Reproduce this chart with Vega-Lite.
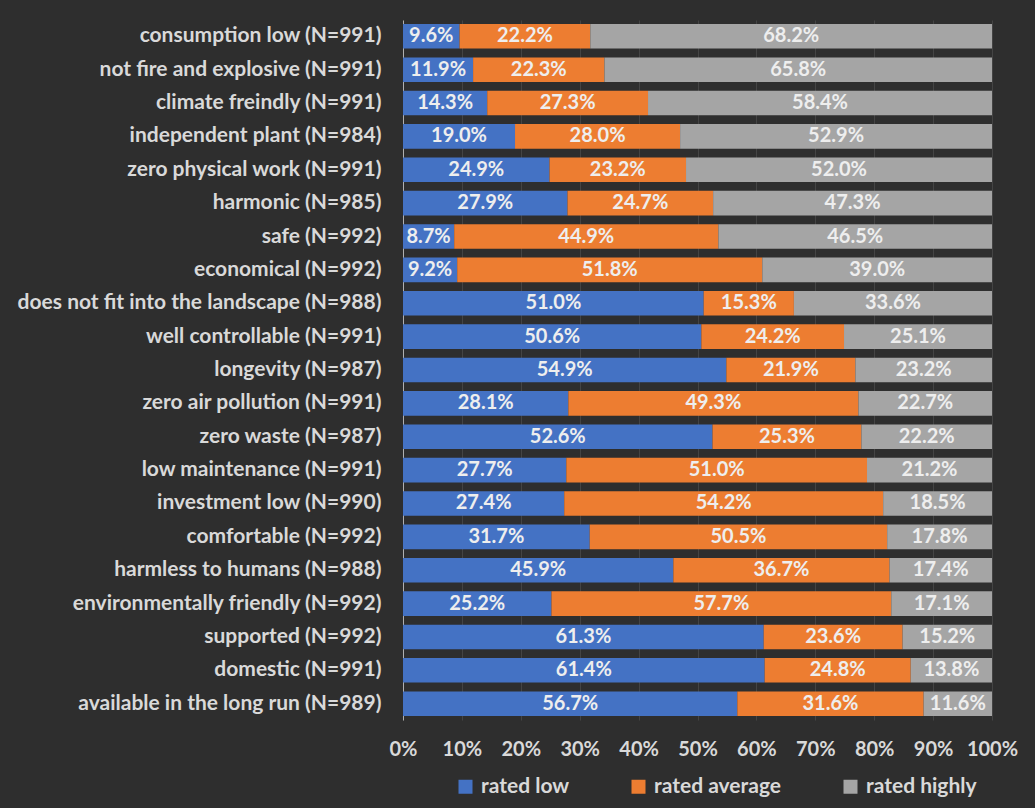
{
  "$schema": "https://vega.github.io/schema/vega-lite/v6.json",
  "width": 589,
  "height": 700,
  "autosize": {"type": "none"},
  "padding": {"left": 403, "top": 20, "right": 43, "bottom": 88},
  "background": "#2e2e2e",
  "config": {
    "view": {"stroke": null},
    "font": "Lato",
    "axis": {"labelFont": "Lato", "labelFontWeight": "bold", "labelColor": "#d9d9d9", "labelFontSize": 21},
    "legend": {"labelFont": "Lato", "labelFontWeight": "bold", "labelColor": "#d9d9d9", "labelFontSize": 21}
  },
  "data": {
    "values": [
      {"item": "consumption low (N=991)", "rating": "rated low", "value": 0.096},
      {"item": "consumption low (N=991)", "rating": "rated average", "value": 0.222},
      {"item": "consumption low (N=991)", "rating": "rated highly", "value": 0.682},
      {"item": "not fire and explosive (N=991)", "rating": "rated low", "value": 0.119},
      {"item": "not fire and explosive (N=991)", "rating": "rated average", "value": 0.223},
      {"item": "not fire and explosive (N=991)", "rating": "rated highly", "value": 0.658},
      {"item": "climate freindly (N=991)", "rating": "rated low", "value": 0.143},
      {"item": "climate freindly (N=991)", "rating": "rated average", "value": 0.273},
      {"item": "climate freindly (N=991)", "rating": "rated highly", "value": 0.584},
      {"item": "independent plant (N=984)", "rating": "rated low", "value": 0.190},
      {"item": "independent plant (N=984)", "rating": "rated average", "value": 0.280},
      {"item": "independent plant (N=984)", "rating": "rated highly", "value": 0.529},
      {"item": "zero physical work (N=991)", "rating": "rated low", "value": 0.249},
      {"item": "zero physical work (N=991)", "rating": "rated average", "value": 0.232},
      {"item": "zero physical work (N=991)", "rating": "rated highly", "value": 0.520},
      {"item": "harmonic (N=985)", "rating": "rated low", "value": 0.279},
      {"item": "harmonic (N=985)", "rating": "rated average", "value": 0.247},
      {"item": "harmonic (N=985)", "rating": "rated highly", "value": 0.473},
      {"item": "safe (N=992)", "rating": "rated low", "value": 0.087},
      {"item": "safe (N=992)", "rating": "rated average", "value": 0.449},
      {"item": "safe (N=992)", "rating": "rated highly", "value": 0.465},
      {"item": "economical (N=992)", "rating": "rated low", "value": 0.092},
      {"item": "economical (N=992)", "rating": "rated average", "value": 0.518},
      {"item": "economical (N=992)", "rating": "rated highly", "value": 0.390},
      {"item": "does not fit into the landscape (N=988)", "rating": "rated low", "value": 0.510},
      {"item": "does not fit into the landscape (N=988)", "rating": "rated average", "value": 0.153},
      {"item": "does not fit into the landscape (N=988)", "rating": "rated highly", "value": 0.336},
      {"item": "well controllable (N=991)", "rating": "rated low", "value": 0.506},
      {"item": "well controllable (N=991)", "rating": "rated average", "value": 0.242},
      {"item": "well controllable (N=991)", "rating": "rated highly", "value": 0.251},
      {"item": "longevity (N=987)", "rating": "rated low", "value": 0.549},
      {"item": "longevity (N=987)", "rating": "rated average", "value": 0.219},
      {"item": "longevity (N=987)", "rating": "rated highly", "value": 0.232},
      {"item": "zero air pollution (N=991)", "rating": "rated low", "value": 0.281},
      {"item": "zero air pollution (N=991)", "rating": "rated average", "value": 0.493},
      {"item": "zero air pollution (N=991)", "rating": "rated highly", "value": 0.227},
      {"item": "zero waste (N=987)", "rating": "rated low", "value": 0.526},
      {"item": "zero waste (N=987)", "rating": "rated average", "value": 0.253},
      {"item": "zero waste (N=987)", "rating": "rated highly", "value": 0.222},
      {"item": "low maintenance (N=991)", "rating": "rated low", "value": 0.277},
      {"item": "low maintenance (N=991)", "rating": "rated average", "value": 0.510},
      {"item": "low maintenance (N=991)", "rating": "rated highly", "value": 0.212},
      {"item": "investment low (N=990)", "rating": "rated low", "value": 0.274},
      {"item": "investment low (N=990)", "rating": "rated average", "value": 0.542},
      {"item": "investment low (N=990)", "rating": "rated highly", "value": 0.185},
      {"item": "comfortable (N=992)", "rating": "rated low", "value": 0.317},
      {"item": "comfortable (N=992)", "rating": "rated average", "value": 0.505},
      {"item": "comfortable (N=992)", "rating": "rated highly", "value": 0.178},
      {"item": "harmless to humans (N=988)", "rating": "rated low", "value": 0.459},
      {"item": "harmless to humans (N=988)", "rating": "rated average", "value": 0.367},
      {"item": "harmless to humans (N=988)", "rating": "rated highly", "value": 0.174},
      {"item": "environmentally friendly (N=992)", "rating": "rated low", "value": 0.252},
      {"item": "environmentally friendly (N=992)", "rating": "rated average", "value": 0.577},
      {"item": "environmentally friendly (N=992)", "rating": "rated highly", "value": 0.171},
      {"item": "supported (N=992)", "rating": "rated low", "value": 0.613},
      {"item": "supported (N=992)", "rating": "rated average", "value": 0.236},
      {"item": "supported (N=992)", "rating": "rated highly", "value": 0.152},
      {"item": "domestic (N=991)", "rating": "rated low", "value": 0.614},
      {"item": "domestic (N=991)", "rating": "rated average", "value": 0.248},
      {"item": "domestic (N=991)", "rating": "rated highly", "value": 0.138},
      {"item": "available in the long run (N=989)", "rating": "rated low", "value": 0.567},
      {"item": "available in the long run (N=989)", "rating": "rated average", "value": 0.316},
      {"item": "available in the long run (N=989)", "rating": "rated highly", "value": 0.116}
    ]
  },
  "transform": [
    {"calculate": "indexof(['rated low','rated average','rated highly'], datum.rating)", "as": "ord"},
    {"stack": "value", "groupby": ["item"], "sort": [{"field": "ord", "order": "ascending"}], "offset": "normalize", "as": ["v0", "v1"]},
    {"calculate": "(datum.v0 + datum.v1) / 2", "as": "mid"}
  ],
  "encoding": {
    "y": {
      "field": "item",
      "type": "nominal",
      "sort": null,
      "title": null,
      "scale": {"paddingInner": 0.265, "paddingOuter": 0.12},
      "axis": {"ticks": false, "domain": true, "domainColor": "#b0b0b0", "domainWidth": 1, "labelPadding": 22, "labelLimit": 500}
    }
  },
  "layer": [
    {
      "mark": {"type": "bar"},
      "encoding": {
        "x": {
          "field": "v0",
          "type": "quantitative",
          "title": null,
          "scale": {"domain": [0, 1]},
          "axis": {"format": ".0%", "values": [0,0.1,0.2,0.3,0.4,0.5,0.6,0.7,0.8,0.9,1], "labelOverlap": false, "labelFlush": false, "labelFontSize": 20, "ticks": false, "domain": false, "grid": true, "gridColor": "#444444", "labelPadding": 19}
        },
        "x2": {"field": "v1"},
        "color": {
          "field": "rating",
          "type": "nominal",
          "scale": {"domain": ["rated low", "rated average", "rated highly"], "range": ["#4472c4", "#ed7d31", "#a5a5a5"]},
          "legend": {"title": null, "orient": "none", "direction": "horizontal", "legendX": 52, "legendY": 756, "symbolType": "square", "symbolSize": 196, "symbolStrokeWidth": 0, "columnPadding": 58, "labelOffset": 5}
        }
      }
    },
    {
      "mark": {"type": "text", "font": "Lato", "fontWeight": "bold", "fontSize": 20, "color": "#eeeeee", "align": "center", "baseline": "middle"},
      "encoding": {
        "x": {"field": "mid", "type": "quantitative"},
        "text": {"field": "value", "type": "quantitative", "format": ".1%"}
      }
    }
  ]
}
